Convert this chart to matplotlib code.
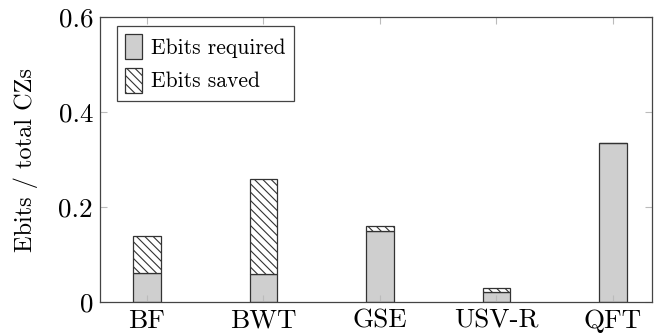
import matplotlib
matplotlib.use('Agg')
import matplotlib.pyplot as plt
import numpy as np

# benchmark circuits and ebit fractions
circuits = ['BF', 'BWT', 'GSE', 'USV-R', 'QFT']
ebits_required = [0.062, 0.058, 0.150, 0.021, 0.334]
ebits_saved = [0.078, 0.200, 0.010, 0.009, 0.0015]

plt.rcParams['font.family'] = ['cmr10', 'DejaVu Serif']
plt.rcParams['axes.formatter.use_mathtext'] = True
plt.rcParams['hatch.linewidth'] = 0.8

fig = plt.figure(figsize=(6.54, 3.35), dpi=100)
ax = fig.add_axes([100 / 654, 1 - 302 / 335, 552 / 654, 285 / 335])

x = np.arange(len(circuits))
w = 0.235
ax.bar(x, ebits_required, w, color='#cfcfcf', edgecolor='#333333', linewidth=0.9,
       label='Ebits required')
ax.bar(x, ebits_saved, w, bottom=ebits_required, color='white', edgecolor='#333333',
       linewidth=0.9, hatch='\\\\\\\\', label='Ebits saved')

ax.set_xlim(-0.403, 4.335)
ax.set_ylim(0, 0.6)
ax.set_xticks(x)
ax.set_xticklabels(circuits)
ax.set_yticks([0, 0.2, 0.4, 0.6])
ax.set_yticklabels(['0', '0.2', '0.4', '0.6'])
ax.tick_params(direction='in', length=5, color='#bbbbbb', labelsize=19.5,
               top=True, right=True, pad=5)
for s in ax.spines.values():
    s.set_color('#444444')
    s.set_linewidth(0.9)
ax.set_ylabel('Ebits / total CZs', fontsize=17.5, labelpad=15)

leg = ax.legend(loc='upper left', bbox_to_anchor=(0.03, 0.97), fontsize=15.5,
                fancybox=False, framealpha=1, edgecolor='#444444',
                handlelength=0.8, handleheight=1.4, handletextpad=0.4,
                borderpad=0.4, labelspacing=0.4, borderaxespad=0)
leg.get_frame().set_linewidth(0.9)

fig.savefig('out.png', dpi=100)
